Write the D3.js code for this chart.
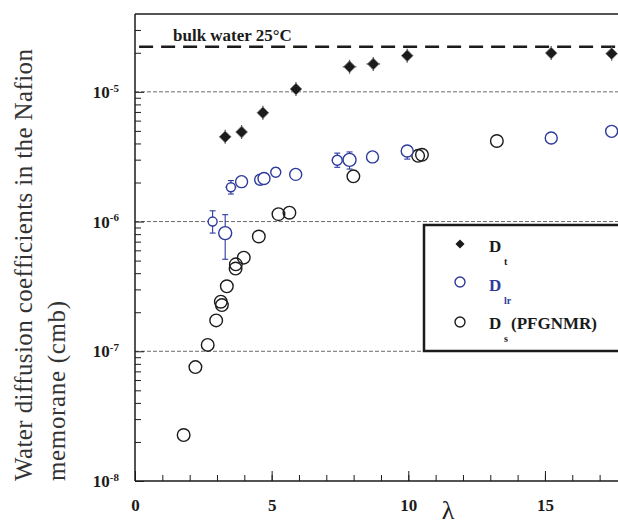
<!DOCTYPE html>
<html>
<head>
<meta charset="utf-8">
<script src="https://cdn.jsdelivr.net/npm/d3@7"></script>
<style>
  body { margin: 0; background: #fff; }
  svg { display: block; }
</style>
</head>
<body>
<svg id="chart" width="618" height="527" font-family="Liberation Serif, serif"></svg>
<script>
// D_t (black diamonds)
const dtLambda = [3.30, 3.90, 4.68, 5.89, 7.85, 8.72, 9.96, 15.23, 17.44];
const dtValue  = [4.5e-6, 4.9e-6, 6.9e-6, 1.05e-5, 1.56e-5, 1.64e-5, 1.90e-5, 1.99e-5, 1.97e-5];
const dtLambdaErr = [0.2, 0.2, 0.15, 0.15, 0.25, 0.25, 0.1, 0.15, 0.15];

// D_lr (blue open circles)
const dlrLambda = [2.84, 3.30, 3.51, 3.90, 4.58, 4.72, 5.15, 5.88, 7.40, 7.85, 8.69, 9.96, 15.23, 17.44];
const dlrValue  = [1.0e-6, 8.15e-7, 1.84e-6, 2.03e-6, 2.10e-6, 2.15e-6, 2.40e-6, 2.31e-6, 2.97e-6, 2.99e-6, 3.15e-6, 3.50e-6, 4.41e-6, 4.96e-6];
const dlrLow    = [8.15e-7, 5.12e-7, 1.63e-6, 1.9e-6, 2.0e-6, 2.0e-6, 2.25e-6, 2.2e-6, 2.62e-6, 2.54e-6, 3.0e-6, 3.03e-6, 4.3e-6, 4.8e-6];
const dlrHigh   = [1.21e-6, 1.13e-6, 2.07e-6, 2.15e-6, 2.25e-6, 2.35e-6, 2.6e-6, 2.45e-6, 3.37e-6, 3.44e-6, 3.3e-6, 3.83e-6, 4.55e-6, 5.1e-6];
const dlrLambdaErr = [0.12, 0.1, 0.2, 0.1, 0.12, 0.12, 0.14, 0.1, 0.2, 0.12, 0.1, 0.1, 0.1, 0.1];
const dlrRadius = [4.5, 6.5, 4.5, 6, 5.5, 6, 5, 6, 5, 6.5, 6, 6, 6, 6];

// D_s PFGNMR (black open circles)
const dsLambda = [1.78, 2.21, 2.66, 2.97, 3.14, 3.18, 3.36, 3.69, 3.68, 3.98, 4.53, 5.25, 5.65, 7.99, 10.36, 10.50, 13.24];
const dsValue  = [2.26e-8, 7.55e-8, 1.12e-7, 1.73e-7, 2.41e-7, 2.27e-7, 3.17e-7, 4.68e-7, 4.34e-7, 5.27e-7, 7.67e-7, 1.14e-6, 1.17e-6, 2.23e-6, 3.21e-6, 3.27e-6, 4.18e-6];

const bulkWater = 2.23e-5;
const xMajorTicks = [0, 5, 10, 15];
const yDecades = [1e-8, 1e-7, 1e-6, 1e-5];
const yExponents = ["-8", "-7", "-6", "-5"];

const blue = "#2e3a9c";
const black = "#1b1b1b";
const serif = "Liberation Serif, serif";

const svg = d3.select("#chart");
const plotLeft = 135, plotBottom = 481, plotTop = 14;

const x = d3.scaleLinear().domain([0, 18]).range([plotLeft, plotLeft + 18 * 27.33]);
const y = d3.scaleLog().domain([1e-8, Math.pow(10, -4.4)]).range([plotBottom, plotTop]);

// gridlines
svg.append("g").selectAll("line").data(yDecades.slice(1)).join("line")
  .attr("x1", plotLeft).attr("x2", 618).attr("y1", d => y(d)).attr("y2", d => y(d))
  .attr("stroke", "#6a6a6a").attr("stroke-width", 1).attr("stroke-dasharray", "4,2");

// frame top
svg.append("line").attr("x1", plotLeft).attr("x2", 618).attr("y1", plotTop).attr("y2", plotTop)
  .attr("stroke", black).attr("stroke-width", 1.5);

// x axis minor + major
const minorX = d3.range(0, 19);
svg.append("g").attr("transform", `translate(0,${plotBottom})`)
  .call(d3.axisBottom(x).tickValues(minorX).tickSize(-6).tickFormat(""))
  .call(g => g.select(".domain").remove())
  .selectAll("line").attr("stroke", black);
const xAxis = svg.append("g").attr("transform", `translate(0,${plotBottom})`)
  .call(d3.axisBottom(x).tickValues(xMajorTicks).tickSizeInner(-10).tickSizeOuter(0).tickPadding(18).tickFormat(d3.format("d")));
xAxis.attr("font-family", serif);
xAxis.select(".domain").attr("stroke", black).attr("stroke-width", 1.5).attr("d", `M${plotLeft},0H618`);
xAxis.selectAll("line").attr("stroke", black);
xAxis.selectAll("text").attr("font-size", 17).attr("font-weight", "bold").attr("fill", black);

// y axis
const minorY = [];
for (let e = -8; e < -4; e++) for (let m = 2; m <= 9; m++) {
  const v = m * Math.pow(10, e);
  if (v < Math.pow(10, -4.4)) minorY.push(v);
}
svg.append("g").attr("transform", `translate(${plotLeft},0)`)
  .call(d3.axisLeft(y).tickValues(minorY).tickSize(-6).tickFormat(""))
  .call(g => g.select(".domain").remove())
  .selectAll("line").attr("stroke", black);
const yAxis = svg.append("g").attr("transform", `translate(${plotLeft},0)`)
  .call(d3.axisLeft(y).tickValues(yDecades).tickSizeInner(-9).tickSizeOuter(0).tickPadding(16).tickFormat(() => "10"));
yAxis.attr("font-family", serif);
yAxis.select(".domain").attr("stroke", black).attr("stroke-width", 1.5).attr("d", `M0,${plotTop}V${plotBottom}`);
yAxis.selectAll("line").attr("stroke", black);
yAxis.selectAll("text").attr("font-size", 17).attr("font-weight", "bold").attr("fill", black)
  .each(function(d, i) {
    d3.select(this).append("tspan").attr("dy", "-0.55em").attr("font-size", 11).text(yExponents[i]);
  });

// axis titles
const yTitle = svg.append("g").attr("font-size", 25).attr("fill", "#333").attr("font-family", serif);
yTitle.append("text").attr("transform", "translate(32,481) rotate(-90)")
  .attr("textLength", 432).attr("lengthAdjust", "spacing")
  .text("Water diffusion coefficients in the Nafion");
yTitle.append("text").attr("transform", "translate(65,481) rotate(-90)")
  .attr("textLength", 180).attr("lengthAdjust", "spacing")
  .text("memorane (cmb)");
svg.append("text").attr("x", 448).attr("y", 519).attr("text-anchor", "middle").attr("font-family", serif)
  .attr("font-size", 26).attr("fill", "#222").text("λ");

// bulk water line
svg.append("line").attr("x1", x(0.15)).attr("x2", 618).attr("y1", y(bulkWater)).attr("y2", y(bulkWater))
  .attr("stroke", black).attr("stroke-width", 2.5).attr("stroke-dasharray", "14,8");
svg.append("text").attr("x", 173).attr("y", 41).attr("font-size", 17).attr("font-weight", "bold")
  .attr("font-family", serif).attr("fill", black).text("bulk water 25°C");

// D_s circles
svg.append("g").selectAll("circle").data(dsLambda).join("circle")
  .attr("cx", d => x(d)).attr("cy", (d, i) => y(dsValue[i])).attr("r", 6.3)
  .attr("fill", "none").attr("stroke", black).attr("stroke-width", 1.4);

// D_lr error bars (behind) + circles with white fill
const lrErr = svg.append("g").attr("stroke", blue).attr("stroke-width", 1.1);
dlrLambda.forEach((l, i) => {
  const cx = x(l), cy = y(dlrValue[i]);
  lrErr.append("line").attr("x1", cx).attr("x2", cx).attr("y1", y(dlrLow[i])).attr("y2", y(dlrHigh[i]));
  lrErr.append("line").attr("x1", cx - 3).attr("x2", cx + 3).attr("y1", y(dlrLow[i])).attr("y2", y(dlrLow[i]));
  lrErr.append("line").attr("x1", cx - 3).attr("x2", cx + 3).attr("y1", y(dlrHigh[i])).attr("y2", y(dlrHigh[i]));
  lrErr.append("line").attr("x1", x(l - dlrLambdaErr[i])).attr("x2", x(l + dlrLambdaErr[i])).attr("y1", cy).attr("y2", cy);
});
svg.append("g").selectAll("circle").data(dlrLambda).join("circle")
  .attr("cx", d => x(d)).attr("cy", (d, i) => y(dlrValue[i])).attr("r", (d, i) => dlrRadius[i])
  .attr("fill", "#fff").attr("stroke", blue).attr("stroke-width", 1.4);

// D_t error bars + diamonds
const diamond = d3.symbol().type(d3.symbolSquare).size(70);
const tErr = svg.append("g").attr("stroke", "#555").attr("stroke-width", 1.2);
dtLambda.forEach((l, i) => {
  const cy = y(dtValue[i]);
  tErr.append("line").attr("x1", x(l - dtLambdaErr[i])).attr("x2", x(l + dtLambdaErr[i])).attr("y1", cy).attr("y2", cy);
  tErr.append("line").attr("x1", x(l)).attr("x2", x(l)).attr("y1", cy - 7).attr("y2", cy + 7);
});
svg.append("g").selectAll("path").data(dtLambda).join("path")
  .attr("d", diamond)
  .attr("transform", (d, i) => `translate(${x(d)},${y(dtValue[i])}) rotate(45)`)
  .attr("fill", black).attr("stroke", "#888").attr("stroke-width", 0.8);

// legend
const lg = svg.append("g").attr("font-family", serif);
lg.append("rect").attr("x", 424).attr("y", 225).attr("width", 220).attr("height", 126)
  .attr("fill", "#fff").attr("stroke", black).attr("stroke-width", 2.5);
lg.append("path").attr("d", d3.symbol().type(d3.symbolSquare).size(42))
  .attr("transform", "translate(460,244) rotate(45)").attr("fill", black);
lg.append("circle").attr("cx", 460).attr("cy", 282).attr("r", 5).attr("fill", "none").attr("stroke", blue).attr("stroke-width", 1.4);
lg.append("circle").attr("cx", 460).attr("cy", 322).attr("r", 5).attr("fill", "none").attr("stroke", black).attr("stroke-width", 1.4);
const legendRows = [
  { y: 252, sub: "t", rest: "", color: black },
  { y: 291, sub: "lr", rest: "", color: blue },
  { y: 329, sub: "s", rest: "(PFGNMR)", color: black }
];
legendRows.forEach(r => {
  lg.append("text").attr("x", 489).attr("y", r.y).attr("font-size", 17).attr("font-weight", "bold")
    .attr("fill", r.color).text("D");
  lg.append("text").attr("x", 504).attr("y", r.y + 13).attr("font-size", 10).attr("font-weight", "bold")
    .attr("fill", r.color).text(r.sub);
  if (r.rest) lg.append("text").attr("x", 511).attr("y", r.y).attr("font-size", 17).attr("font-weight", "bold")
    .attr("fill", r.color).text(r.rest);
});
</script>
</body>
</html>
